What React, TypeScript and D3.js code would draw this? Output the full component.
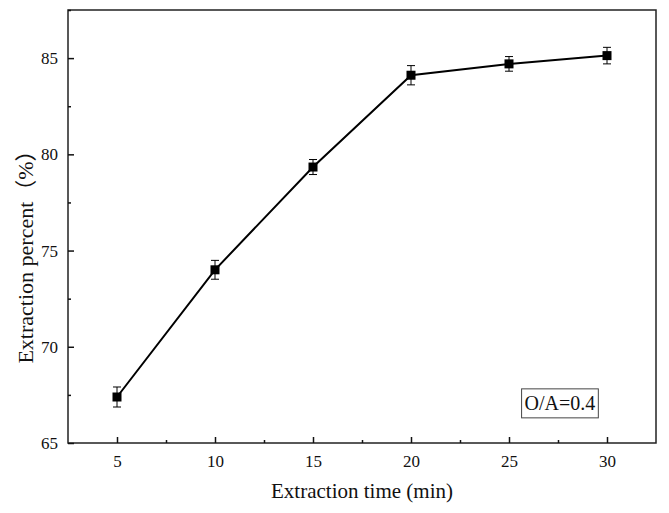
import { useRef, useEffect } from 'react';
import * as d3 from 'd3';

// Extraction time (min) vs extraction percent (%), O/A = 0.4
const times = [5, 10, 15, 20, 25, 30];
const percents = [67.39, 74.0, 79.34, 84.11, 84.7, 85.13];
const errors = [0.52, 0.49, 0.39, 0.5, 0.38, 0.43];
const xTicks = [5, 10, 15, 20, 25, 30];
const yTicks = [65, 70, 75, 80, 85];

const W = 669;
const H = 513;
const FONT = '"Liberation Serif", "Times New Roman", "Noto Sans CJK SC", serif';

export default function App() {
  const svgRef = useRef<SVGSVGElement>(null);

  useEffect(() => {
    if (!svgRef.current) return;
    const el = svgRef.current;
    d3.select(el).selectAll('*').remove();

    const margin = { top: 10, right: 13, bottom: 70, left: 68 };
    const width = W - margin.left - margin.right;
    const height = H - margin.top - margin.bottom;

    const svg = d3.select(el).append('g')
      .attr('transform', `translate(${margin.left},${margin.top})`);

    const x = d3.scaleLinear().domain([2.5, 32.5]).range([0, width]);
    const y = d3.scaleLinear().domain([65, 87.5]).range([height, 0]);

    // frame
    svg.append('rect').attr('x', 0).attr('y', 0).attr('width', width).attr('height', height)
      .attr('fill', 'none').attr('stroke', '#222').attr('stroke-width', 1.5);

    // x axis, ticks pointing inward
    const xAxis = svg.append('g').attr('transform', `translate(0,${height})`)
      .call(d3.axisBottom(x).tickValues(xTicks).tickSize(-6).tickPadding(12).tickFormat(d3.format('d')))
      .attr('font-family', FONT).attr('font-size', 17);
    xAxis.select('.domain').remove();
    xAxis.selectAll('line').attr('stroke', '#111').attr('stroke-width', 1.5);
    xAxis.selectAll('text').attr('fill', '#111');
    svg.append('g').attr('transform', `translate(0,${height})`)
      .call(d3.axisBottom(x).tickValues(xTicks.map((t) => t + 2.5).slice(0, -1)).tickSize(-3).tickFormat(() => ''))
      .call((g) => g.select('.domain').remove())
      .selectAll('line').attr('stroke', '#111').attr('stroke-width', 1.5);

    // y axis
    const yAxis = svg.append('g')
      .call(d3.axisLeft(y).tickValues(yTicks).tickSize(-6).tickPadding(10).tickFormat(d3.format('d')))
      .attr('font-family', FONT).attr('font-size', 17);
    yAxis.select('.domain').remove();
    yAxis.selectAll('line').attr('stroke', '#111').attr('stroke-width', 1.5);
    yAxis.selectAll('text').attr('fill', '#111');
    svg.append('g')
      .call(d3.axisLeft(y).tickValues(yTicks.map((t) => t + 2.5)).tickSize(-3).tickFormat(() => ''))
      .call((g) => g.select('.domain').remove())
      .selectAll('line').attr('stroke', '#111').attr('stroke-width', 1.5);

    const pts = times.map((t, i) => ({ t, v: percents[i], e: errors[i] }));

    // line
    const line = d3.line<{ t: number; v: number }>().x((d) => x(d.t)).y((d) => y(d.v));
    svg.append('path').datum(pts).attr('d', line)
      .attr('fill', 'none').attr('stroke', '#000').attr('stroke-width', 2);

    // error bars
    const cap = 4;
    pts.forEach((d) => {
      const cx = x(d.t);
      const g = svg.append('g').attr('stroke', '#000').attr('stroke-width', 1);
      g.append('line').attr('x1', cx).attr('x2', cx).attr('y1', y(d.v + d.e)).attr('y2', y(d.v - d.e));
      g.append('line').attr('x1', cx - cap).attr('x2', cx + cap).attr('y1', y(d.v + d.e)).attr('y2', y(d.v + d.e));
      g.append('line').attr('x1', cx - cap).attr('x2', cx + cap).attr('y1', y(d.v - d.e)).attr('y2', y(d.v - d.e));
    });

    // square markers
    const s = 9;
    svg.selectAll('.pt').data(pts).join('rect')
      .attr('class', 'pt')
      .attr('x', (d) => x(d.t) - s / 2).attr('y', (d) => y(d.v) - s / 2)
      .attr('width', s).attr('height', s).attr('fill', '#000');

    // annotation box
    const bx = x(27.6);
    const by = y(67.06);
    const box = svg.append('rect');
    const label = svg.append('text').attr('x', bx).attr('y', by)
      .attr('font-family', FONT).attr('font-size', 20).attr('fill', '#111')
      .attr('text-anchor', 'middle').attr('dominant-baseline', 'central').text('O/A=0.4');
    const bb = (label.node() as SVGTextElement).getBBox();
    box.attr('x', bx - Math.max(38, bb.width / 2 + 3)).attr('y', by - 14.5)
      .attr('width', Math.max(76, bb.width + 6)).attr('height', 29)
      .attr('fill', 'white').attr('stroke', '#444').attr('stroke-width', 1);

    // axis titles
    svg.append('text').attr('x', width / 2).attr('y', height + 55)
      .attr('text-anchor', 'middle').attr('font-family', FONT).attr('font-size', 21).attr('fill', '#111')
      .text('Extraction time (min)');
    svg.append('text').attr('transform', `translate(${-35},${height / 2 + 25}) rotate(-90)`)
      .attr('text-anchor', 'middle').attr('font-family', FONT).attr('font-size', 22).attr('fill', '#111')
      .text('Extraction percent（%）');
  }, []);

  return (
    <svg ref={svgRef} width={W} height={H}
      style={{ position: 'absolute', left: 0, top: 0, background: 'white' }} />
  );
}
